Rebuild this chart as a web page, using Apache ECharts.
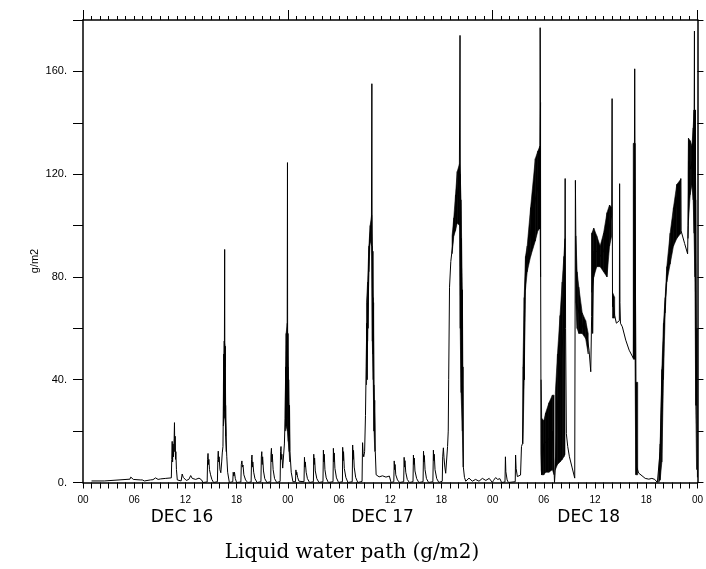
<!DOCTYPE html>
<html><head><meta charset="utf-8">
<script src="https://cdn.jsdelivr.net/npm/echarts@6/dist/echarts.min.js"></script>
<style>html,body{margin:0;padding:0;background:#fff}#c{width:706px;height:569px}</style>
</head><body><div id="c"></div>
<script>
// ---- tick labels ----
const hourLabels = ['00','06','12','18'];
const dateLabels = ['DEC 16','DEC 17','DEC 18'];
const titleText = 'Liquid water path (g/m2)';
const yName = 'g/m2';

// ---- liquid water path (hour since DEC 16 00, g/m2) ----
const day1 = [
[1.0,0.6],[2.5,0.6],[2.55,1.3],[5.5,1.3],[5.6,2.1],[5.75,1.7],[5.9,1.2],[6.7,1.0],[6.8,0.3],[6.95,1.0],[7.2,0.6],[7.4,0.9],[7.9,1.0],[8.0,1.7],[8.2,1.1],[8.5,1.8],[8.8,1.2],[9.1,1.4],[9.7,1.6],[10.35,1.8],
[10.4,9],[10.45,16],[10.5,8],[10.55,15],[10.6,10],[10.68,17],[10.72,23.3],[10.76,12],[10.8,18],[10.84,9],[10.88,12],[10.95,5],[11.05,1],[11.15,0.3],[11.5,0.6],[11.62,3.3],[11.75,2],[11.9,1.6],[12.1,0.8],[12.4,1.2],[12.62,2.7],[12.8,1.6],[13.2,1.2],[13.6,1.7],[13.9,1.0],[14.05,0],[14.55,0.2],
[14.6,9],[14.65,11.3],[14.7,7],[14.75,9],[14.82,5],[14.95,3],[15.1,1.2],[15.3,0],
[15.75,0.3],[15.8,9],[15.85,12.2],[15.9,8],[15.95,10],[16.05,5],[16.15,3.8],[16.25,8],[16.32,11.5],[16.4,14],
[16.45,30],[16.5,50],[16.55,28],[16.6,90.7],[16.62,45],[16.65,53],[16.7,25],[16.75,17.8],[16.85,10],[16.95,4],[17.15,0],
[17.55,0.3],[17.6,4],[17.68,2.5],[17.75,4],[17.85,1.5],[18.0,0],
[18.5,0.2],[18.55,7],[18.62,8.4],[18.68,6],[18.75,6.8],[18.85,3],[19.05,1],[19.3,0],
[19.7,0.2],[19.75,9],[19.8,10.7],[19.86,6],[19.9,8],[20.0,4],[20.15,1.5],[20.4,0],
[20.85,0.3],[20.9,10],[20.95,12],[21.0,7],[21.05,10],[21.15,4.5],[21.3,1.5],[21.55,0],
[22.0,0.3],[22.03,11],[22.08,13.3],[22.13,8],[22.18,11],[22.28,5],[22.45,1.5],[22.7,0],
[23.1,0.4],[23.15,12],[23.2,14],[23.25,9],[23.3,11],[23.4,5.6],[23.5,6],[23.6,15],[23.68,25],
[23.75,45],[23.8,22],[23.85,55],[23.9,30],[23.93,62],[23.96,124.5],[23.98,45],[24.02,58],[24.06,25],[24.1,40],[24.15,18],[24.2,30],[24.25,12],[24.4,4],[24.6,0.3]
];
const day2 = [
[24.9,0.3],[24.95,4.9],[25.0,3],[25.05,4],[25.15,2],[25.3,0.5],[25.5,0],
[25.9,0.3],[25.95,9.8],[26.0,6],[26.05,8],[26.15,4],[26.3,1.5],[26.55,0],
[27.0,0.3],[27.04,11],[27.09,7],[27.14,9.5],[27.22,4.5],[27.4,1.5],[27.65,0],
[28.12,0.3],[28.17,12.6],[28.22,8],[28.27,11],[28.35,5],[28.5,1.8],[28.75,0],
[29.3,0.3],[29.34,13.3],[29.39,8],[29.44,11.5],[29.52,5.5],[29.7,1.8],[29.95,0],
[30.4,0.3],[30.43,13.7],[30.48,8.5],[30.53,12],[30.62,5.5],[30.8,2],[31.05,0],
[31.55,0.3],[31.6,14.6],[31.65,9],[31.7,12.5],[31.78,6],[31.95,2],[32.2,0],
[32.7,0.4],[32.76,15.5],[32.82,11.3],[32.9,10],[33.0,12],[33.1,26],[33.18,45],
[33.25,62],[33.3,40],[33.35,70],[33.4,60],[33.5,88],[33.6,95],[33.7,98],[33.8,102],[33.85,155.2],[33.88,92],[33.93,55],[33.97,90],[34.0,50],[34.05,70],[34.08,37],[34.12,20],[34.18,32],[34.25,12],[34.35,3],[34.45,2.9],[34.7,2.2],[35.1,2.6],[35.5,2.1],[35.9,2.5],[36.1,0],
[36.42,0.3],[36.47,8.4],[36.52,5],[36.57,7],[36.65,3],[36.85,1],[37.1,0],
[37.58,0.3],[37.63,9.8],[37.68,6],[37.73,8.5],[37.82,4],[38.0,1.2],[38.25,0],
[38.67,0.3],[38.72,10.7],[38.77,7],[38.82,9.5],[38.9,4.5],[39.1,1.5],[39.35,0],
[39.85,0.3],[39.9,12.2],[39.95,8],[40.0,10.5],[40.08,5],[40.25,1.5],[40.5,0],
[41.0,0.3],[41.06,12.6],[41.11,8.5],[41.16,11],[41.25,5],[41.45,1.5],[41.7,0],
[42.1,0.5],[42.15,10],[42.23,13.5],[42.3,9.8],[42.4,6],[42.5,3.6],[42.6,4],[42.72,14],[42.8,20],[42.85,40],[42.95,76],[43.1,86],[43.2,89],
[43.3,92],[43.45,100],[43.65,105],[43.85,112],[44.0,115],[44.1,118],[44.18,174],[44.22,110],[44.28,60],[44.32,95],[44.38,40],[44.42,75],[44.47,30],[44.52,45],[44.57,6],[44.7,2],[44.85,0.5],
[45.23,1.7],[45.62,0.5],[46.0,1.2],[46.4,0.5],[46.8,1.6],[47.2,0.8],[47.6,1.6],[47.97,0]
];
const day3 = [
[48.1,0.8],[48.35,1.9],[48.6,1.2],[48.85,1.5],[49.05,0],[49.45,0.2],
[49.5,10],[49.55,4.2],[49.7,1],[49.85,0],
[50.65,0.3],[50.69,10.7],[50.75,5.5],[50.9,2.3],[51.1,2],[51.27,2.9],[51.38,14],[51.5,15.2],
[51.55,15],[51.6,45],[51.7,40],[51.78,72],[51.85,80],[52.05,87],[52.45,97],[53.0,110],[53.3,115],[53.55,131],[53.57,177],[53.6,148],[53.63,80],[53.68,11.5],
[53.75,3],[54.0,15],[54.6,17],[55.0,20],[55.2,5],[55.25,0],[55.36,6],
[55.6,30],[56.0,45],[56.3,60],[56.47,95],[56.5,118.3],[56.55,60],[56.64,19],[56.8,14],[57.0,10],[57.3,6],[57.62,1.7],[57.7,117.6],
[57.75,96],[57.8,70],[58.0,70],[58.3,64],[58.6,60],[58.9,61],[59.06,60.6],[59.3,51.5],[59.5,43.1],[59.6,64.5],[59.65,97],
[59.72,58],[59.85,90],[60.2,90],[60.6,88],[61.0,90],[61.4,95],[61.7,100],[61.95,104],[62.0,149.4],[62.05,68.4],[62.15,70],[62.3,65],[62.5,62],[62.7,62],[62.85,63],[62.88,116.3],[62.92,70],[62.98,62],[63.2,60.6],[63.6,55.4],[64.0,51.5],[64.5,48.3],[64.55,112],[64.62,132],[64.65,161],[64.7,110],[64.78,39.2],[64.9,6],[65.1,3.7],[65.3,3.6],[65.88,1.6],[66.3,1.3],[66.66,1.6],[67.0,1.2],[67.3,0],[67.45,0],
[67.63,12],[67.83,40],[68.02,55],[68.22,70],[68.41,80],[68.8,90],[69.19,100],[69.58,110],[70.05,118.3],[70.08,98],[70.5,93],[70.85,89],[70.9,100],
[71.0,125],[71.2,122],[71.4,125],[71.55,120],[71.62,145],[71.65,175.7],[71.68,100],[71.75,145],[71.8,97],[71.88,30],[71.95,60],[72.0,2]
];

// ---- dense oscillation envelopes: [hour, low, high] ----
const bandA = [[16.45,22,38],[16.55,25,55],[16.65,28,53],[16.72,18,30],[16.78,12,20]];
const bandB = [[23.7,20,28],[23.8,22,58],[23.95,20,62],[24.05,16,45],[24.15,12,30],[24.22,8,15]];
const bandC = [[33.22,38,70],[33.35,55,78],[33.5,82,92],[33.65,94,100],[33.82,92,104],[33.9,55,92],[34.0,40,72],[34.1,20,38],[34.2,12,22]];
const bandD = [[43.25,89,96],[43.45,96,103],[43.65,98,112],[43.85,101,121],[44.12,100,124],[44.2,60,120],[44.3,35,110],[44.45,20,75],[44.55,6,30]];
const bandE = [[51.55,15,45],[51.7,40,72],[51.85,75,88],[52.05,82,92],[52.45,88,107],[53.0,94,126],[53.3,98,129],[53.55,99,131],[53.62,80,148]];
const bandF = [[53.68,5,40],[53.75,3,25],[54.0,3,24],[54.2,4,27],[54.6,4,31],[55.0,5,34],[55.2,3,34]];
const bandG = [[55.35,5,35],[55.6,7,50],[55.9,8,65],[56.15,9,78],[56.35,10,88],[56.48,11,95]];
const bandH = [[57.75,70,96],[57.9,60,82],[58.1,58,76],[58.5,58,66],[58.9,56,63],[59.2,50,58]];
const bandI = [[59.62,74,97],[59.85,80,99],[60.2,84,96],[60.6,84,92],[61.0,82,97],[61.4,80,105],[61.7,92,108],[61.95,96,107]];
const bandJ = [[62.05,64,74],[62.3,64,72]];
const bandK = [[64.48,48,132],[64.68,48,132],[64.78,3,39],[65.0,3,39]];
const bandL = [[67.45,0,3],[67.63,1,15],[67.83,8,44],[68.02,40,62],[68.22,66,72],[68.41,78,84],[68.8,85,97],[69.19,92,107],[69.58,95,116],[70.05,97,118]];
const bandM = [[70.9,95,120],[70.95,102,134],[71.15,112,133],[71.35,116,131],[71.5,110,138],[71.6,97,145],[71.7,80,145],[71.8,30,110],[71.9,5,40]];

const bands = [bandA,bandB,bandC,bandD,bandE,bandF,bandG,bandH,bandI,bandJ,bandK,bandL,bandM];
const segs = [];
bands.forEach(b => { for (let i = 0; i + 1 < b.length; i++) segs.push([b[i][0],b[i][1],b[i][2],b[i+1][0],b[i+1][1],b[i+1][2]]); });
const lwp = day1.concat(day2, day3);

const chart = echarts.init(document.getElementById('c'), null, {renderer:'canvas'});
const axisLine = {show:true, onZero:false, lineStyle:{color:'#000', width:1.5}};
const tickStyle = {color:'#000', width:1};
chart.setOption({
  animation:false,
  backgroundColor:'#fff',
  grid:{left:83, top:20, width:616, height:462.5, containLabel:false},
  xAxis:[
    {type:'value', min:0, max:72, interval:6, position:'bottom', axisLine,
     axisTick:{show:true, length:6, lineStyle:tickStyle},
     minorTick:{show:true, splitNumber:6, length:6, lineStyle:tickStyle},
     splitLine:{show:false}, minorSplitLine:{show:false},
     axisLabel:{formatter:v => hourLabels[(v/6)%4], fontSize:10, color:'#000', margin:13, fontFamily:'Liberation Sans'}},
    {type:'value', min:0, max:72, interval:24, position:'top', axisLine,
     axisTick:{show:true, length:10, lineStyle:tickStyle},
     minorTick:{show:true, splitNumber:24, length:4, lineStyle:tickStyle},
     splitLine:{show:false}, minorSplitLine:{show:false}, axisLabel:{show:false}}
  ],
  yAxis:[
    {type:'value', min:0, max:180, interval:20, position:'left', axisLine,
     axisTick:{show:true, length:10, lineStyle:tickStyle},
     splitLine:{show:false},
     axisLabel:{formatter:v => (v % 40 === 0 && v < 180) ? v + '.' : '', fontSize:11, color:'#000', margin:16, fontFamily:'Liberation Sans'}},
    {type:'value', min:0, max:180, interval:20, position:'right', axisLine,
     axisTick:{show:true, length:6, lineStyle:tickStyle},
     splitLine:{show:false}, axisLabel:{show:false}}
  ],
  series:[
    {type:'custom', xAxisIndex:0, yAxisIndex:0, clip:true, data:segs, z:2,
     encode:{x:[0,3], y:[1,2,4,5]},
     renderItem:(params, api) => {
       const a = api.coord([api.value(0), api.value(1)]);
       const b = api.coord([api.value(3), api.value(4)]);
       const c = api.coord([api.value(3), api.value(5)]);
       const d = api.coord([api.value(0), api.value(2)]);
       return {type:'polygon', shape:{points:[a,b,c,d]}, style:{fill:'#000', stroke:'#000', lineWidth:0.6}};
     }},
    {type:'line', xAxisIndex:0, yAxisIndex:0, data:lwp, showSymbol:false, symbol:'none', z:3,
     lineStyle:{color:'#000', width:1, join:'round'}, clip:true}
  ],
  graphic:[
    {type:'text', x:182, y:518, style:{text:dateLabels[0], font:'17px "DejaVu Sans"', fill:'#000', align:'center', verticalAlign:'middle'}},
    {type:'text', x:382.5, y:518, style:{text:dateLabels[1], font:'17px "DejaVu Sans"', fill:'#000', align:'center', verticalAlign:'middle'}},
    {type:'text', x:588.7, y:518, style:{text:dateLabels[2], font:'17px "DejaVu Sans"', fill:'#000', align:'center', verticalAlign:'middle'}},
    {type:'text', x:352, y:553, style:{text:titleText, font:'20px "DejaVu Serif"', fill:'#000', align:'center', verticalAlign:'middle'}},
    {type:'text', x:35, y:261, rotation:Math.PI/2, style:{text:yName, font:'11px "Liberation Sans"', fill:'#000', align:'center', verticalAlign:'middle'}}
  ]
});
</script></body></html>
